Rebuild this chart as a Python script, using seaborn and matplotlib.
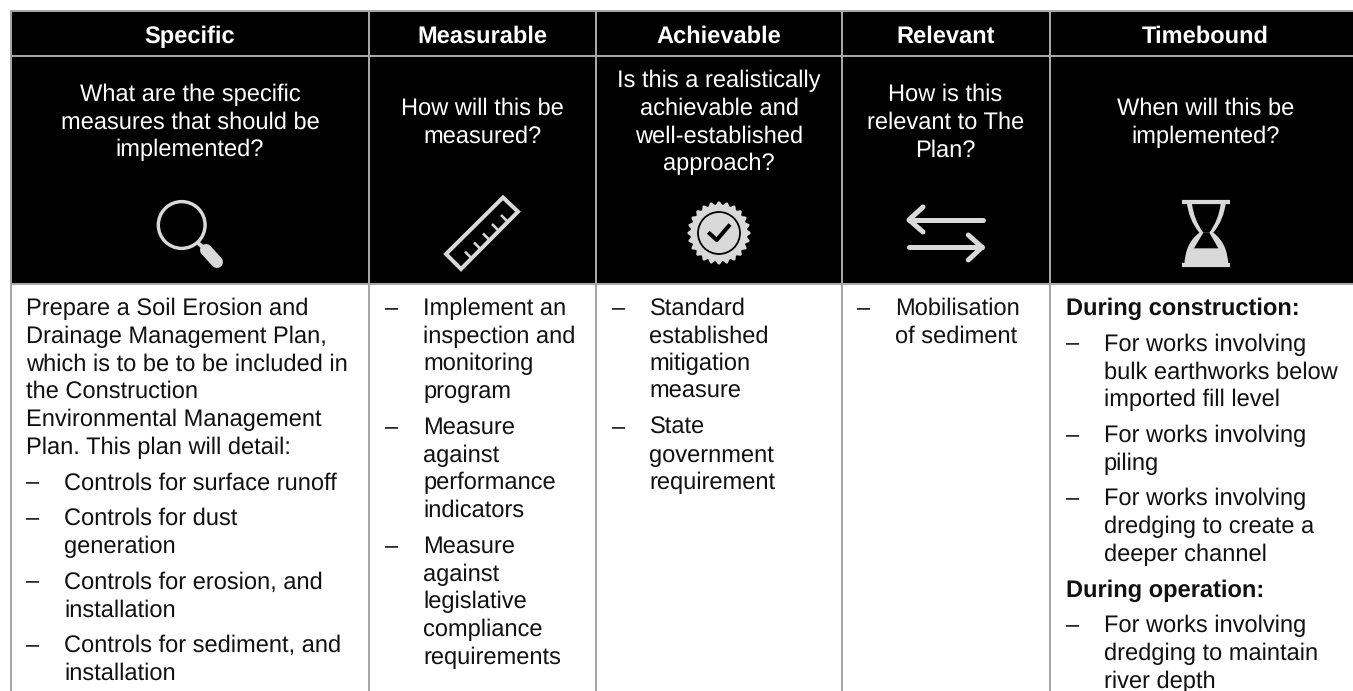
"""
plot.py
-------
SMART criteria table: black header band with icons, text columns below.
"""

import numpy as np
import matplotlib
matplotlib.use("Agg")
import matplotlib.pyplot as plt
from matplotlib.patches import Circle, PathPatch, Polygon
from matplotlib.path import Path
import seaborn as sns

# --- table content ---
HEADERS = ["Specific", "Measurable", "Achievable", "Relevant", "Timebound"]

QUESTIONS = [
    ["What are the specific", "measures that should be", "implemented?"],
    ["How will this be", "measured?"],
    ["Is this a realistically", "achievable and", "well-established", "approach?"],
    ["How is this", "relevant to The", "Plan?"],
    ["When will this be", "implemented?"],
]

SPECIFIC_BODY = [
    ("plain", ["Prepare a Soil Erosion and", "Drainage Management Plan,",
               "which is to be to be included in", "the Construction",
               "Environmental Management", "Plan. This plan will detail:"]),
    ("dash", ["Controls for surface runoff"]),
    ("dash", ["Controls for dust", "generation"]),
    ("dash", ["Controls for erosion, and", "installation"]),
    ("dash", ["Controls for sediment, and", "installation"]),
]
MEASURABLE_BODY = [
    ("dash", ["Implement an", "inspection and", "monitoring", "program"]),
    ("dash", ["Measure", "against", "performance", "indicators"]),
    ("dash", ["Measure", "against", "legislative", "compliance", "requirements"]),
]
ACHIEVABLE_BODY = [
    ("dash", ["Standard", "established", "mitigation", "measure"]),
    ("dash", ["State", "government", "requirement"]),
]
RELEVANT_BODY = [
    ("dash", ["Mobilisation", "of sediment"]),
]
TIMEBOUND_BODY = [
    ("bold", ["During construction:"]),
    ("dash", ["For works involving", "bulk earthworks below", "imported fill level"]),
    ("dash", ["For works involving", "piling"]),
    ("dash", ["For works involving", "dredging to create a", "deeper channel"]),
    ("bold", ["During operation:"]),
    ("dash", ["For works involving", "dredging to maintain", "river depth"]),
]
BODIES = [SPECIFIC_BODY, MEASURABLE_BODY, ACHIEVABLE_BODY, RELEVANT_BODY, TIMEBOUND_BODY]

# --- layout, in pixels of the final image ---
W, H = 1353, 691
LINE_X = [369, 596, 842, 1050]
CENTER_X = [190, 482.5, 719, 945.5, 1205.5]
BODY_LEFT = [26, 385, 611.5, 857, 1065.5]
INDENT = 38
GRID = "#a6a6a6"
ICON = "#d9d9d9"
FS = 17.05
STEP = 27.75
PARA_STEP = 35.7
Q_BASE = {2: 115, 3: 101, 4: 87}

sns.set_theme(style="white")
plt.rcParams["font.family"] = ["Liberation Sans", "DejaVu Sans"]
plt.rcParams["text.hinting"] = "none"

fig = plt.figure(figsize=(W / 100, H / 100), dpi=100, facecolor="white")

# black band behind header and questions
ax_band = fig.add_axes([11 / W, 1 - 284 / H, (W - 11) / W, (284 - 11) / H])
sns.heatmap(np.ones((1, 1)), cmap=["black"], cbar=False,
            xticklabels=False, yticklabels=False, ax=ax_band)

ax = fig.add_axes([0, 0, 1, 1])
ax.set_xlim(0, W)
ax.set_ylim(H, 0)
ax.axis("off")

# grid lines
lw = 2 * 0.72
for y in [11, 56, 284]:
    ax.plot([10, W], [y, y], color=GRID, lw=lw, solid_capstyle="butt")
for x in [11] + LINE_X:
    ax.plot([x, x], [10, H], color=GRID, lw=lw, solid_capstyle="butt")

# header + question text
for i, head in enumerate(HEADERS):
    ax.text(CENTER_X[i], 43, head, color="white", fontsize=FS, fontweight="bold",
            ha="center", va="baseline")
    lines = QUESTIONS[i]
    for j, line in enumerate(lines):
        ax.text(CENTER_X[i], Q_BASE[len(lines)] + j * STEP, line, color="white",
                fontsize=FS, ha="center", va="baseline")

# body text
for i, body in enumerate(BODIES):
    y = 315
    for k, (kind, lines) in enumerate(body):
        if k > 0:
            y += PARA_STEP
        x = BODY_LEFT[i]
        if kind == "dash":
            ax.text(x, y, "–", color="#111111", fontsize=FS, va="baseline")
            x += INDENT
        for j, line in enumerate(lines):
            if j > 0:
                y += STEP
            ax.text(x, y, line, color="#111111", fontsize=FS, va="baseline",
                    fontweight="bold" if kind == "bold" else "normal")


def stroke(points, width, color=ICON, cap="round"):
    pts = np.array(points, dtype=float)
    ax.plot(pts[:, 0], pts[:, 1], color=color, lw=width * 0.72,
            solid_capstyle=cap, solid_joinstyle="round")


# magnifier
ax.add_patch(Circle((181.7, 225), 23.4, fill=False, ec=ICON, lw=3.4 * 0.72))
stroke([(198, 243), (205, 249)], 4, cap="butt")
stroke([(206, 250), (217, 262)], 12)

# ruler
ax.add_patch(Polygon([(503, 197.5), (518, 211.7), (461, 269), (446, 254)],
                     closed=True, fill=False, ec=ICON, lw=4 * 0.72, joinstyle="miter"))
for x0, y0 in [(465, 251.7), (474, 242.5), (483, 233.5), (492, 224), (501, 215)]:
    stroke([(x0, y0), (x0 + 7, y0 + 7)], 2.6, cap="butt")

# badge
theta = np.linspace(0, 2 * np.pi, 721)
radius = 30 + 1.6 * np.cos(24 * theta)
ax.add_patch(Polygon(np.c_[719 + radius * np.cos(theta), 233 + radius * np.sin(theta)],
                     closed=True, fc=ICON, ec="none"))
ax.add_patch(Circle((719, 233), 21, fill=False, ec="black", lw=1.8 * 0.72))
stroke([(708.3, 232.3), (716.7, 240), (730, 224.5)], 4, color="black", cap="butt")

# arrows
stroke([(982.5, 219.8), (909, 219.8)], 5)
stroke([(923, 207), (909, 219.8), (923, 232)], 5)
stroke([(909, 247.3), (982, 247.3)], 5)
stroke([(968.3, 235), (982, 247.3), (968.3, 260)], 5)


# hourglass
def hg(x, y):
    return (1130 + x / 3, 200 + y / 3)


outer = [(170, 5), (176, 60), (208, 98), (165, 130), (163, 195),
         (295, 195), (293, 130), (250, 98), (282, 60), (288, 5), (170, 5)]
codes = [Path.MOVETO, Path.CURVE3, Path.CURVE3, Path.CURVE3, Path.CURVE3,
         Path.LINETO, Path.CURVE3, Path.CURVE3, Path.CURVE3, Path.CURVE3, Path.CLOSEPOLY]
ax.add_patch(PathPatch(Path([hg(*p) for p in outer], codes), fc=ICON, ec="none"))
inner = [(186, 12), (192, 60), (220, 98), (238, 98), (266, 60), (272, 12), (186, 12)]
icodes = [Path.MOVETO, Path.CURVE3, Path.CURVE3, Path.LINETO, Path.CURVE3, Path.CURVE3,
          Path.CLOSEPOLY]
ax.add_patch(PathPatch(Path([hg(*p) for p in inner], icodes), fc="black", ec="none"))
ax.add_patch(Polygon([hg(220, 98), hg(238, 98), hg(265, 145), hg(192, 145)],
                     closed=True, fc="black", ec="none"))
stroke([hg(157, 6), hg(300, 6)], 4.2, cap="butt")
stroke([hg(157, 194), hg(300, 194)], 4.2, cap="butt")

fig.savefig("out.png", dpi=100, facecolor="white")
plt.close(fig)
